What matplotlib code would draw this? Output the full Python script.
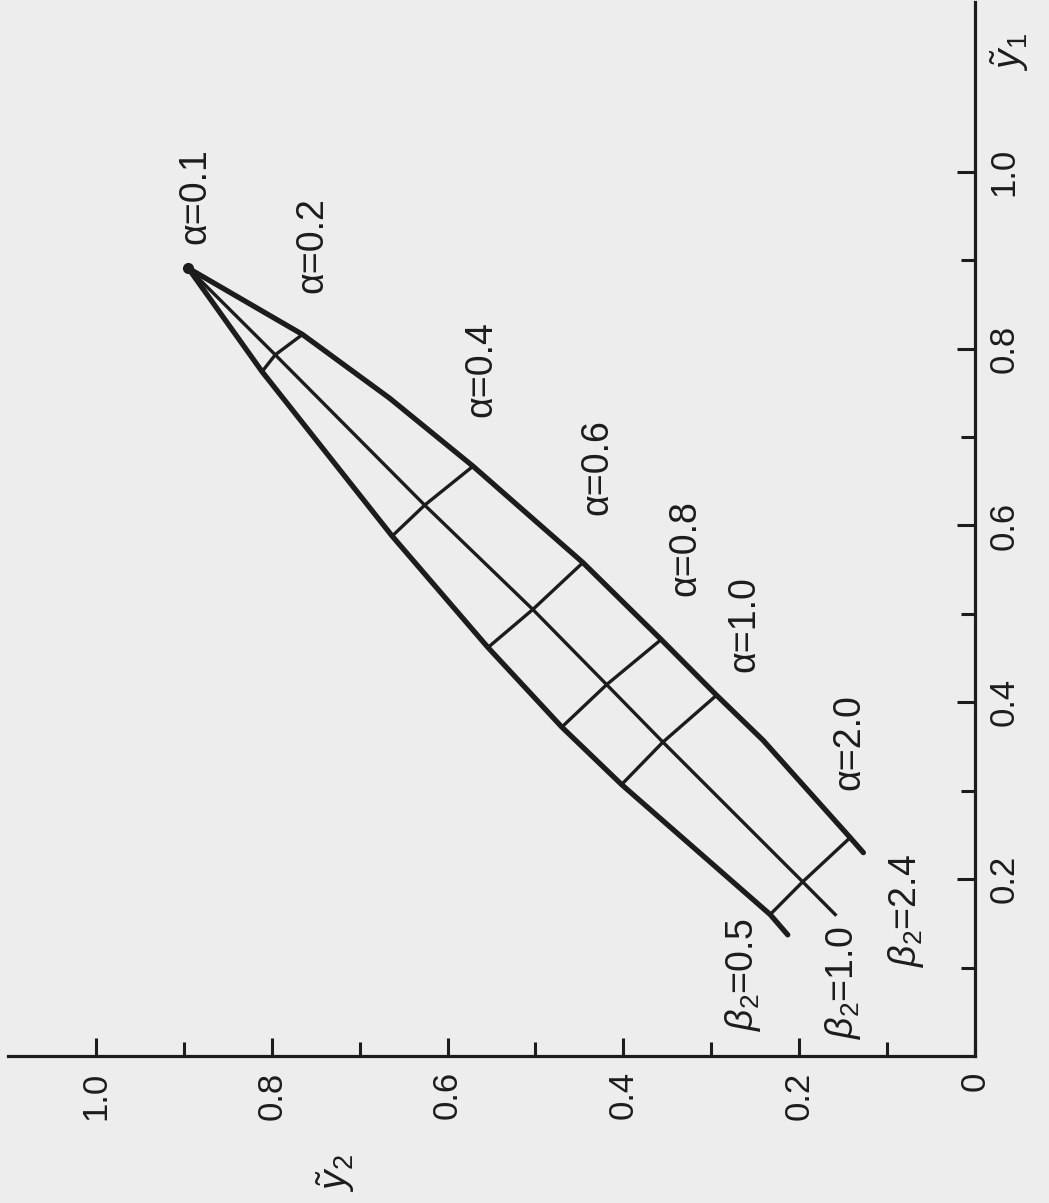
import numpy as np
import matplotlib.pyplot as plt

plt.rcParams['font.family'] = ['Liberation Sans', 'DejaVu Sans']
plt.rcParams['mathtext.fontset'] = 'custom'
plt.rcParams['mathtext.rm'] = 'Liberation Sans'
plt.rcParams['mathtext.it'] = 'Liberation Sans:italic'

# beta2 curves: y2 (horizontal) and y1 (vertical)
b24_y2 = [0.895, 0.765, 0.666, 0.571, 0.446, 0.357, 0.294, 0.241, 0.142, 0.127]
b24_y1 = [0.891, 0.816, 0.744, 0.667, 0.558, 0.471, 0.408, 0.357, 0.247, 0.230]
b10_y2 = [0.895, 0.796, 0.626, 0.503, 0.419, 0.355, 0.196, 0.159]
b10_y1 = [0.891, 0.793, 0.623, 0.505, 0.420, 0.355, 0.197, 0.160]
b05_y2 = [0.895, 0.811, 0.663, 0.554, 0.470, 0.402, 0.233, 0.213]
b05_y1 = [0.891, 0.774, 0.588, 0.462, 0.372, 0.307, 0.160, 0.137]

# alpha cross lines: points on beta2 = 2.4, 1.0, 0.5
alphas = ['0.2', '0.4', '0.6', '0.8', '1.0', '2.0']
cross_y2 = [[0.765, 0.796, 0.811],
            [0.571, 0.626, 0.663],
            [0.446, 0.503, 0.554],
            [0.357, 0.419, 0.470],
            [0.294, 0.355, 0.402],
            [0.142, 0.196, 0.233]]
cross_y1 = [[0.816, 0.793, 0.774],
            [0.667, 0.623, 0.588],
            [0.558, 0.505, 0.462],
            [0.471, 0.420, 0.372],
            [0.408, 0.355, 0.307],
            [0.247, 0.197, 0.160]]

# label positions
alpha_lbl = ['0.1', '0.2', '0.4', '0.6', '0.8', '1.0', '2.0']
alpha_lbl_y2 = [0.887, 0.754, 0.561, 0.429, 0.330, 0.262, 0.143]
alpha_lbl_y1 = [0.972, 0.917, 0.777, 0.666, 0.575, 0.488, 0.355]
beta_lbl = ['0.5', '1.0', '2.4']
beta_lbl_y2 = [0.264, 0.150, 0.078]
beta_lbl_y1 = [0.092, 0.083, 0.165]

ink = '#1c1c1c'
paper = '#ededed'

fig = plt.figure(figsize=(10.49, 12.03), dpi=100, facecolor=paper)
ax = fig.add_axes([8/1049, 147/1203, 967/1049, 1054/1203], facecolor=paper)

ax.plot(b24_y2, b24_y1, color=ink, lw=3.8, solid_joinstyle='round', solid_capstyle='round')
ax.plot(b05_y2, b05_y1, color=ink, lw=3.8, solid_joinstyle='round', solid_capstyle='round')
ax.plot(b10_y2, b10_y1, color=ink, lw=2.4, solid_joinstyle='round')
for xs, ys in zip(cross_y2, cross_y1):
    ax.plot(xs, ys, color=ink, lw=2.4)
# rounded blob where all curves meet
ax.plot(b10_y2[0], b10_y1[0], 'o', color=ink, ms=7)

for lbl, x, y in zip(alpha_lbl, alpha_lbl_y2, alpha_lbl_y1):
    ax.text(x, y, 'α=' + lbl, rotation=90, ha='center', va='center',
            fontsize=27, color=ink)
for lbl, x, y in zip(beta_lbl, beta_lbl_y2, beta_lbl_y1):
    ax.text(x, y, r'$\beta_2$=' + lbl, rotation=90, ha='center', va='center',
            fontsize=27, color=ink)

ax.set_xlim(1.10, 0)
ax.set_ylim(0, 1.192)
for s in ['top', 'left']:
    ax.spines[s].set_visible(False)
for s in ['right', 'bottom']:
    ax.spines[s].set_linewidth(2.3)
    ax.spines[s].set_color(ink)

ax.yaxis.tick_right()
ax.set_xticks([0, 0.2, 0.4, 0.6, 0.8, 1.0])
ax.set_xticklabels(['0', '0.2', '0.4', '0.6', '0.8', '1.0'], rotation=90)
ax.set_xticks(np.arange(0.1, 1.0, 0.2), minor=True)
ax.set_yticks([0.2, 0.4, 0.6, 0.8, 1.0])
ax.set_yticklabels(['0.2', '0.4', '0.6', '0.8', '1.0'], rotation=90, va='center')
ax.set_yticks(np.arange(0.1, 1.0, 0.2), minor=True)
ax.tick_params(which='major', direction='in', length=13, width=2.2, color=ink,
               labelsize=25, labelcolor=ink, pad=9)
ax.tick_params(which='minor', direction='in', length=10, width=2.2, color=ink)
ax.tick_params(axis='x', which='major', pad=11)

fig.text(1010/1049, 1 - 52/1203, r'$\tilde{y}_1$', rotation=90, ha='center', va='center',
         fontsize=28, color=ink)
fig.text(336/1049, 1 - 1173/1203, r'$\tilde{y}_2$', rotation=90, ha='center', va='center',
         fontsize=28, color=ink)

fig.savefig('out.png', dpi=100, facecolor=paper)
